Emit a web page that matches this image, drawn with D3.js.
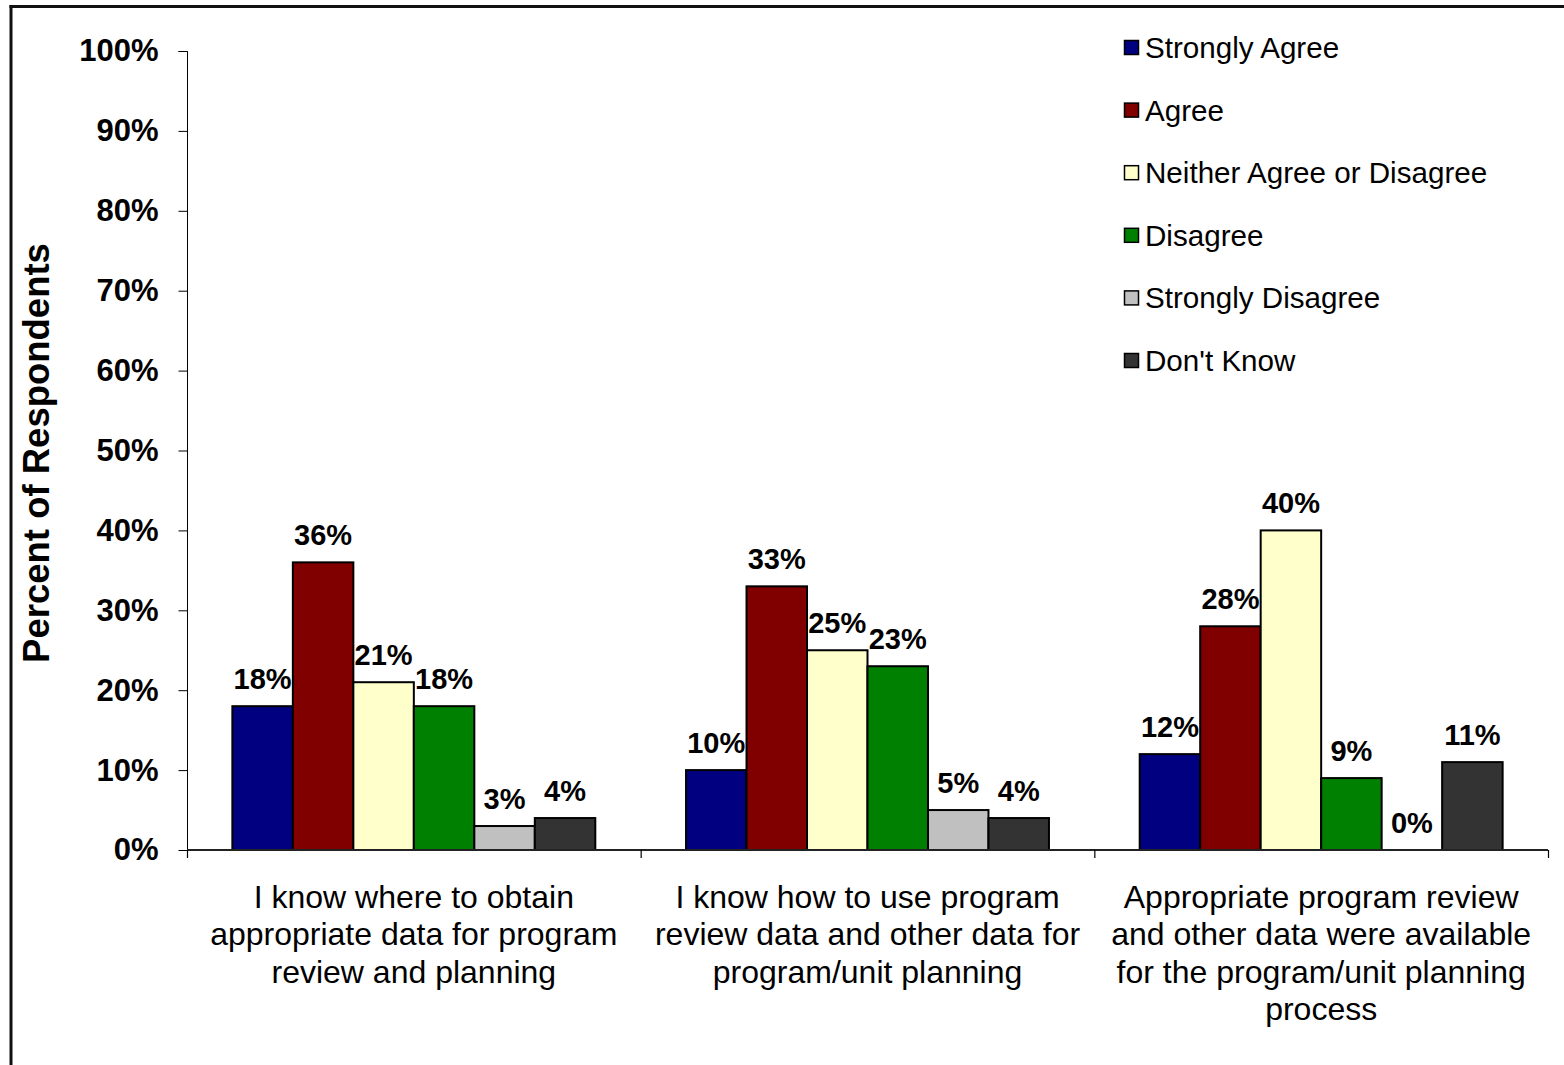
<!DOCTYPE html>
<html>
<head>
<meta charset="utf-8">
<script src="https://cdn.jsdelivr.net/npm/d3@7"></script>
<style>
  html, body { margin: 0; padding: 0; background: #fff; }
  svg { display: block; }
  text { font-family: "Liberation Sans", Arial, sans-serif; fill: #000; }
</style>
</head>
<body>
<svg id="chart" width="1564" height="1065"></svg>
<script>
const categories = [
  ["I know where to obtain", "appropriate data for program", "review and planning"],
  ["I know how to use program", "review data and other data for", "program/unit planning"],
  ["Appropriate program review", "and other data were available", "for the program/unit planning", "process"]
];
const categoryKeys = ["c1", "c2", "c3"];
const seriesNames = ["Strongly Agree", "Agree", "Neither Agree or Disagree", "Disagree", "Strongly Disagree", "Don't Know"];
const seriesColors = ["#000080", "#800000", "#FFFFCC", "#008000", "#C0C0C0", "#333333"];
const stronglyAgree = [18, 10, 12];
const agree = [36, 33, 28];
const neither = [21, 25, 40];
const disagree = [18, 23, 9];
const stronglyDisagree = [3, 5, 0];
const dontKnow = [4, 4, 11];
const yTicks = [0, 10, 20, 30, 40, 50, 60, 70, 80, 90, 100];

const seriesValues = [stronglyAgree, agree, neither, disagree, stronglyDisagree, dontKnow];

const svg = d3.select("#chart");

// outer frame (only top and left visible)
svg.append("line").attr("x1", 9.5).attr("x2", 1564).attr("y1", 6.5).attr("y2", 6.5)
  .attr("stroke", "#111").attr("stroke-width", 3);
svg.append("line").attr("x1", 11).attr("x2", 11).attr("y1", 5).attr("y2", 1065)
  .attr("stroke", "#111").attr("stroke-width", 3);

const plot = { left: 187, right: 1548, top: 51, bottom: 850 };

const y = d3.scaleLinear().domain([0, 100]).range([plot.bottom, plot.top]);
const x0 = d3.scaleBand().domain(categoryKeys).range([plot.left, plot.right]).padding(0);
const gap = x0.bandwidth() * 0.1;
const x1 = d3.scaleBand().domain(seriesNames).range([gap, x0.bandwidth() - gap]).padding(0);

// Y axis
const yAxis = d3.axisLeft(y).tickValues(yTicks).tickSize(9).tickPadding(20).tickFormat(d => d + "%");
const gy = svg.append("g").attr("transform", `translate(${plot.left + 0.5},0)`).call(yAxis);
gy.select(".domain").attr("d", `M-9,${plot.top + 0.5}H0V${plot.bottom}`).attr("stroke", "#000").attr("stroke-width", 1);
gy.selectAll(".tick line").attr("stroke", "#000");
gy.selectAll(".tick text")
  .style("font-family", '"Liberation Sans", Arial, sans-serif')
  .style("font-size", "31px").style("font-weight", "bold").attr("fill", "#000");

// Y title
svg.append("text")
  .attr("transform", `translate(49,${453}) rotate(-90)`)
  .attr("text-anchor", "middle")
  .style("font-size", "36.5px").style("font-weight", "bold")
  .text("Percent of Respondents");

// Bars
const groups = svg.append("g").selectAll("g")
  .data(categoryKeys)
  .join("g")
  .attr("transform", d => `translate(${x0(d)},0)`);

groups.each(function (c, ci) {
  const g = d3.select(this);
  const rows = seriesNames.map((s, si) => ({ s, si, v: seriesValues[si][ci] }));
  g.selectAll("rect").data(rows.filter(r => r.v > 0)).join("rect")
    .attr("x", r => x1(r.s))
    .attr("y", r => y(r.v))
    .attr("width", x1.bandwidth())
    .attr("height", r => y(0) - y(r.v))
    .attr("fill", r => seriesColors[r.si])
    .attr("stroke", "#000").attr("stroke-width", 2);
  g.selectAll("text.lbl").data(rows).join("text")
    .attr("class", "lbl")
    .attr("x", r => x1(r.s) + x1.bandwidth() / 2)
    .attr("y", r => y(r.v) - 17)
    .attr("text-anchor", "middle")
    .style("font-size", "29px").style("font-weight", "bold")
    .text(r => r.v + "%");
});

// X axis line and boundary ticks
const xAxis = d3.axisBottom(d3.scaleLinear().domain([0, 3]).range([plot.left, plot.right]))
  .tickValues([0, 1, 2, 3]).tickSize(8).tickFormat("");
const gx = svg.append("g").attr("transform", `translate(0,${plot.bottom})`).call(xAxis);
gx.select(".domain").attr("stroke", "#222").attr("stroke-width", 2).attr("d", `M${plot.left},0H${plot.right}`);
gx.selectAll(".tick line").attr("stroke", "#000").attr("stroke-width", 1.2);

// Category labels
const catG = svg.append("g");
categoryKeys.forEach((k, ci) => {
  const cx = x0(k) + x0.bandwidth() / 2;
  const t = catG.append("text").attr("text-anchor", "middle").style("font-size", "32px");
  categories[ci].forEach((line, li) => {
    t.append("tspan").attr("x", cx).attr("y", 908 + li * 37.4).text(line);
  });
});

// Legend
const legend = svg.append("g");
seriesNames.forEach((s, i) => {
  const cy = 48 + i * 62.6;
  legend.append("rect")
    .attr("x", 1124.5).attr("y", cy - 7.5).attr("width", 14).attr("height", 14)
    .attr("fill", seriesColors[i]).attr("stroke", "#000").attr("stroke-width", 1.5);
  legend.append("text")
    .attr("x", 1145).attr("y", cy + 10)
    .style("font-size", "29.6px")
    .text(s);
});
</script>
</body>
</html>
